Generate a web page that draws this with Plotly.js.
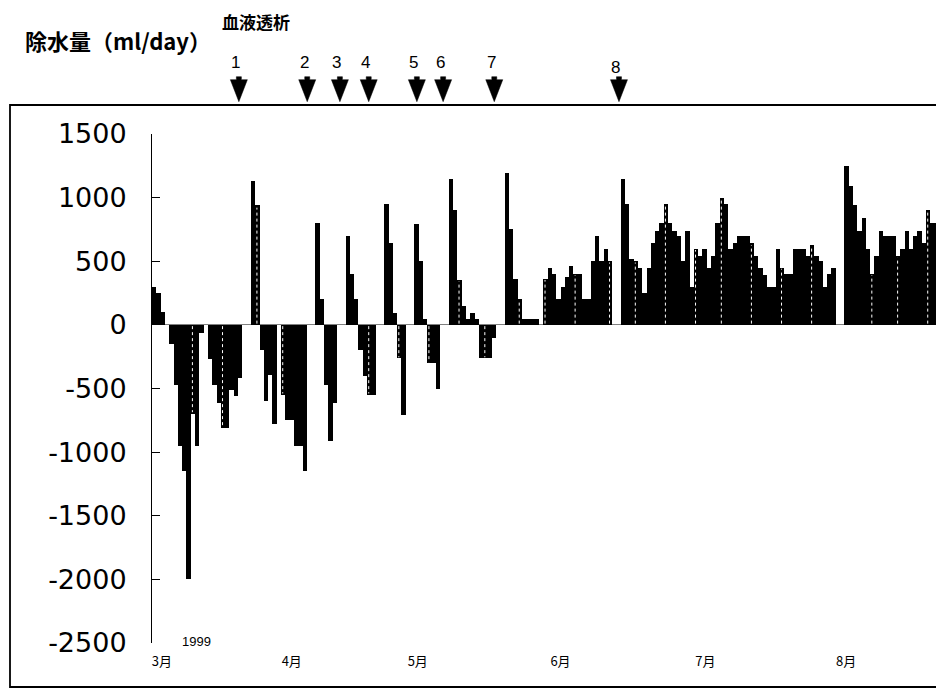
<!DOCTYPE html>
<html>
<head>
<meta charset="utf-8">
<script src="https://cdn.plot.ly/plotly-3.0.1.min.js"></script>
<style>
  html, body { margin: 0; padding: 0; background: #fff; }
  #chart { width: 936px; height: 689px; }
</style>
</head>
<body>
<div id="chart"></div>
<script>
// ---- data (day index from 1 March 1999, ml/day; null = no bar) ----
const dailyWaterRemoval = [
  300, 250, 100, 0, -150, -470, -950, -1150, -2000, -700,
  -950, -60, null, -265, -475, -610, -810, -810, -510, -560,
  -415, null, null, 1130, 940, -200, -600, -390, -780, null,
  -550, -750, -750, -950, -950, -1150, null, null, 800, 200,
  -470, -910, -610, null, null, 700, 400, 200, -200, -400,
  -550, -550, null, null, 950, 640, 90, -260, -710, null,
  null, 790, 500, 50, -300, -300, -500, null, null, 1150,
  900, 350, 150, 50, 90, 50, -260, -260, -260, -100,
  null, null, 1190, 750, 360, 200, 50, 50, 50, 50,
  0, 360, 450, 400, 200, 300, 380, 460, 400, 400,
  200, 200, 500, 700, 500, 600, 500, null, null, 1150,
  950, 520, 500, 450, 250, 450, 640, 740, 800, 950,
  800, 740, 700, 500, 740, 300, 600, 540, 600, 450,
  540, 800, 1000, 950, 600, 640, 700, 700, 700, 640,
  540, 450, 390, 300, 300, 600, 450, 400, 400, 600,
  600, 600, 540, 630, 540, 500, 300, 400, 450, null,
  null, 1250, 1090, 940, 740, 840, 600, 400, 540, 740,
  700, 700, 700, 540, 600, 740, 600, 700, 740, 640,
  900, 800, 800
];
// weekly marked bars (drawn with a white dotted stripe in the original)
const weekMarkDays = [9, 16, 24, 30, 50, 57, 64, 71, 77, 85, 91, 98, 106, 112, 119, 126, 132, 139, 146, 153, 167, 173, 180];
// hemodialysis sessions (day index) and their labels
const dialysisDays = [19.7, 35.6, 43.2, 49.9, 61.1, 67.2, 79.1, 108.1];
const dialysisLabels = ["1", "2", "3", "4", "5", "6", "7", "8"];
// month tick labels
const monthTickDays = [1.8, 32, 61.3, 94.5, 128.2, 160.9];
const monthTickLabels = ["3月", "4月", "5月", "6月", "7月", "8月"];
// y axis ticks
const yTickVals = [-2500, -2000, -1500, -1000, -500, 0, 500, 1000, 1500];
const yTickText = ["-2500", "-2000", "-1500", "-1000", "-500", "0", "500", "1000", "1500"];

// ---- layout geometry ----
const W = 936, H = 689;
const M = {l: 152, r: 0, t: 134, b: 46};
const PW = W - M.l - M.r, PH = H - M.t - M.b;
const px2x = p => (p - M.l) / PW;
const py2y = p => (H - M.b - p) / PH;

const days = dailyWaterRemoval.map((_, i) => i);

const bars = {
  type: 'bar',
  x: days,
  y: dailyWaterRemoval,
  marker: {color: '#000', line: {width: 0}},
  hoverinfo: 'skip'
};

// white dotted stripes in weekly bars
const sx = [], sy = [];
weekMarkDays.forEach(d => {
  const v = dailyWaterRemoval[d];
  if (v === null || v === undefined) return;
  sx.push(d - 0.1, d - 0.1, null);
  sy.push(v > 0 ? 10 : -10, v * 0.98, null);
});
const stripes = {
  type: 'scatter', mode: 'lines', x: sx, y: sy,
  line: {color: '#fff', width: 1, dash: 'dot'},
  hoverinfo: 'skip', showlegend: false
};

const shapes = [];
// outer frame
shapes.push({type: 'rect', xref: 'paper', yref: 'paper',
  x0: px2x(10), x1: px2x(W + 20), y0: py2y(687), y1: py2y(105),
  line: {color: '#000', width: 1.8}, fillcolor: 'rgba(0,0,0,0)', layer: 'below'});
// dialysis arrows (triangle with a short stem)
dialysisDays.forEach(d => {
  shapes.push({type: 'path', xref: 'x', yref: 'paper',
    xsizemode: 'pixel', ysizemode: 'pixel', xanchor: d, yanchor: py2y(101.7),
    path: 'M-8.5,22 L-2.5,22 L-2.5,25 L2.5,25 L2.5,22 L8.5,22 L0,0 Z',
    fillcolor: '#000', line: {color: '#000', width: 0.5}});
});

const annotations = [];
dialysisDays.forEach((d, i) => {
  annotations.push({xref: 'x', yref: 'paper', x: d, xshift: -3,
    y: py2y(i === 7 ? 67 : 63), yanchor: 'middle', xanchor: 'center',
    text: dialysisLabels[i], showarrow: false,
    font: {family: 'Liberation Sans, Arial, sans-serif', size: 17, color: '#000'}});
});
annotations.push({xref: 'paper', yref: 'paper', x: px2x(23), y: py2y(40),
  xanchor: 'left', yanchor: 'middle', showarrow: false,
  text: '<b>除水量（ml/day）</b>',
  font: {family: 'Noto Sans CJK JP, sans-serif', size: 22, color: '#000'}});
annotations.push({xref: 'paper', yref: 'paper', x: px2x(220), y: py2y(21),
  xanchor: 'left', yanchor: 'middle', showarrow: false,
  text: '<b>血液透析</b>',
  font: {family: 'Noto Sans CJK JP, sans-serif', size: 17, color: '#000'}});
annotations.push({xref: 'paper', yref: 'paper', x: px2x(180), y: py2y(641),
  xanchor: 'left', yanchor: 'middle', showarrow: false,
  text: '1999',
  font: {family: 'Liberation Sans, Arial, sans-serif', size: 13, color: '#000'}});

const layout = {
  width: W, height: H,
  margin: M,
  paper_bgcolor: '#fff', plot_bgcolor: '#fff',
  showlegend: false,
  bargap: 0,
  hovermode: false,
  xaxis: {
    range: [-0.5, -0.5 + PW / 4.3],
    showgrid: false, zeroline: false, showline: false, ticks: '',
    tickvals: monthTickDays, ticktext: monthTickLabels,
    tickfont: {family: 'Noto Sans CJK JP, sans-serif', size: 13, color: '#000'},
    ticklabelstandoff: 9
  },
  yaxis: {
    range: [-2500, 1500],
    showgrid: false,
    zeroline: true, zerolinecolor: '#808080', zerolinewidth: 1,
    showline: true, linecolor: '#000', linewidth: 1,
    ticks: 'inside', ticklen: 8, tickcolor: '#000', tickwidth: 1,
    tickvals: yTickVals, ticktext: yTickText,
    tickfont: {family: 'DejaVu Sans, sans-serif', size: 27, color: '#000'},
    ticklabelstandoff: 19
  },
  shapes: shapes,
  annotations: annotations
};

Plotly.newPlot('chart', [bars, stripes], layout, {displayModeBar: false, staticPlot: true});
</script>
</body>
</html>
